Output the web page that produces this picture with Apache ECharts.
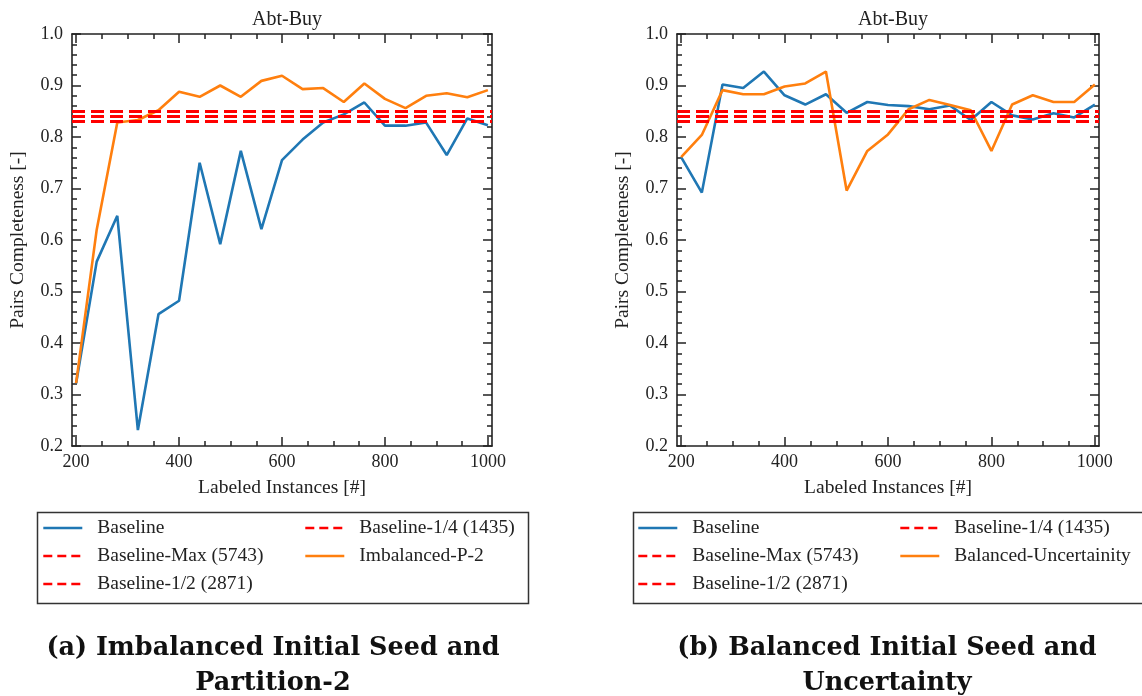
<!DOCTYPE html>
<html>
<head>
<meta charset="utf-8">
<script src="https://cdn.jsdelivr.net/npm/echarts@6/dist/echarts.min.js"></script>
<style>
  html, body { margin: 0; padding: 0; background: #fff; }
  #chart { width: 1142px; height: 696px; }
</style>
</head>
<body>
<div id="chart"></div>
<script>
// Labeled instances (x) shared by both panels
const labeledInstances = [200, 240, 280, 320, 360, 400, 440, 480, 520, 560, 600, 640, 680, 720, 760, 800, 840, 880, 920, 960, 1000];

// Panel (a): imbalanced initial seed, partition-2
const baselineA = [0.322, 0.558, 0.647, 0.231, 0.456, 0.482, 0.750, 0.592, 0.773, 0.621, 0.755, 0.795, 0.828, 0.844, 0.867, 0.822, 0.822, 0.828, 0.765, 0.836, 0.823];
const imbalancedP2 = [0.322, 0.620, 0.828, 0.833, 0.852, 0.888, 0.878, 0.900, 0.878, 0.909, 0.919, 0.893, 0.895, 0.868, 0.904, 0.874, 0.856, 0.880, 0.885, 0.877, 0.891];
const refLinesA = [0.851, 0.837, 0.832]; // Max, 1/2, 1/4

// Panel (b): balanced initial seed, uncertainty
const baselineB = [0.761, 0.692, 0.902, 0.895, 0.927, 0.881, 0.863, 0.883, 0.847, 0.868, 0.862, 0.860, 0.854, 0.861, 0.833, 0.868, 0.842, 0.834, 0.846, 0.838, 0.863];
const balancedUncertainty = [0.761, 0.804, 0.891, 0.883, 0.883, 0.898, 0.904, 0.927, 0.696, 0.773, 0.805, 0.854, 0.872, 0.862, 0.852, 0.773, 0.863, 0.881, 0.868, 0.868, 0.902];
const refLinesB = [0.854, 0.841, 0.826]; // Max, 1/2, 1/4

const refNames = ['Baseline-Max (5743)', 'Baseline-1/2 (2871)', 'Baseline-1/4 (1435)'];
const xMajorTicks = [200, 400, 600, 800, 1000];
const xMinorTicks = [250, 300, 350, 450, 500, 550, 650, 700, 750, 850, 900, 950];
const panelTitle = 'Abt-Buy';
const xName = 'Labeled Instances [#]';
const yName = 'Pairs Completeness [-]';

const SERIF = '"Liberation Serif", "DejaVu Serif", serif';
const INK = '#222';
const BLUE = '#1f77b4', ORANGE = '#ff7f0e', RED = '#ff0000';
const DASH = [13, 6];
const LEGEND_DASH = [9, 5];

const grids = [
  { left: 72, top: 34, width: 420, height: 412 },
  { left: 677, top: 34, width: 422, height: 412 }
];

const xAxes = [];
const yAxes = [];
grids.forEach((g, gi) => {
  const base = { type: 'value', gridIndex: gi, min: 192, max: 1008, splitLine: { show: false } };
  // bottom: major ticks with labels
  xAxes.push(Object.assign({}, base, {
    position: 'bottom',
    axisLine: { show: true, lineStyle: { color: INK, width: 1.6 } },
    axisTick: { show: true, inside: true, length: 9, customValues: xMajorTicks, lineStyle: { color: INK, width: 1.5 } },
    axisLabel: { show: true, customValues: xMajorTicks, color: INK, fontFamily: SERIF, fontSize: 18, margin: 7,
                 formatter: v => String(v) },
    name: xName, nameLocation: 'middle', nameGap: 32,
    nameTextStyle: { color: INK, fontFamily: SERIF, fontSize: 19.5 }
  }));
  // bottom: minor ticks
  xAxes.push(Object.assign({}, base, {
    position: 'bottom',
    axisLine: { show: false },
    axisTick: { show: true, inside: true, length: 5, customValues: xMinorTicks, lineStyle: { color: INK, width: 1.5 } },
    axisLabel: { show: false }
  }));
  // top: major ticks
  xAxes.push(Object.assign({}, base, {
    position: 'top',
    axisLine: { show: true, lineStyle: { color: INK, width: 1.6 } },
    axisTick: { show: true, inside: true, length: 9, customValues: xMajorTicks, lineStyle: { color: INK, width: 1.5 } },
    axisLabel: { show: false }
  }));
  // top: minor ticks
  xAxes.push(Object.assign({}, base, {
    position: 'top',
    axisLine: { show: false },
    axisTick: { show: true, inside: true, length: 5, customValues: xMinorTicks, lineStyle: { color: INK, width: 1.5 } },
    axisLabel: { show: false }
  }));

  const ybase = {
    type: 'value', gridIndex: gi, min: 0.2, max: 1.0, interval: 0.1,
    splitLine: { show: false },
    axisLine: { show: true, lineStyle: { color: INK, width: 1.6 } },
    axisTick: { show: true, inside: true, length: 9, lineStyle: { color: INK, width: 1.5 } },
    minorTick: { show: true, splitNumber: 5, length: 5, lineStyle: { color: INK, width: 1.5 } }
  };
  yAxes.push(Object.assign({}, ybase, {
    position: 'left',
    axisLabel: { show: true, color: INK, fontFamily: SERIF, fontSize: 18, margin: 9, formatter: v => v.toFixed(1) },
    name: yName, nameLocation: 'middle', nameGap: 44,
    nameTextStyle: { color: INK, fontFamily: SERIF, fontSize: 19.5 }
  }));
  yAxes.push(Object.assign({}, ybase, {
    position: 'right',
    axisLabel: { show: false }
  }));
});

function pairs(values) {
  return labeledInstances.map((x, i) => [x, values[i]]);
}

function panelSeries(gi, baseline, strategyName, strategy, refs) {
  const xi = gi * 4, yi = gi * 2;
  const out = [{
    name: 'Baseline', type: 'line', xAxisIndex: xi, yAxisIndex: yi,
    data: pairs(baseline), showSymbol: false, symbol: 'none',
    lineStyle: { color: BLUE, width: 2.6 }, itemStyle: { color: BLUE }, z: 2
  }];
  refs.forEach((v, k) => {
    out.push({
      name: refNames[k], type: 'line', xAxisIndex: xi, yAxisIndex: yi,
      data: [], symbol: 'none',
      lineStyle: { color: RED, width: 2.8, type: DASH }, itemStyle: { color: RED },
      markLine: {
        silent: true, symbol: 'none', label: { show: false },
        lineStyle: { color: RED, width: 2.8, type: DASH },
        data: [{ yAxis: v }]
      },
      z: 3
    });
  });
  out.push({
    name: strategyName, type: 'line', xAxisIndex: xi, yAxisIndex: yi,
    data: pairs(strategy), showSymbol: false, symbol: 'none',
    lineStyle: { color: ORANGE, width: 2.6 }, itemStyle: { color: ORANGE }, z: 4
  });
  return out;
}

const series = [].concat(
  panelSeries(0, baselineA, 'Imbalanced-P-2', imbalancedP2, refLinesA),
  panelSeries(1, baselineB, 'Balanced-Uncertainity', balancedUncertainty, refLinesB)
);

function legendColumn(left, names) {
  return {
    orient: 'vertical', left: left, top: 518, padding: 0,
    itemWidth: 39, itemHeight: 14, itemGap: 8,
    selectedMode: false,
    data: names.map(n => refNames.indexOf(n) >= 0
      ? { name: n, lineStyle: { type: LEGEND_DASH } }
      : { name: n }),
    // line-only legend keys (hide the point marker)
    itemStyle: { opacity: 0, borderWidth: 0 },
    lineStyle: { width: 2.6 },
    textStyle: { color: INK, fontFamily: SERIF, fontSize: 19.5, lineHeight: 20, padding: [0, 0, 0, 10] }
  };
}

const option = {
  backgroundColor: '#fff',
  animation: false,
  grid: grids,
  xAxis: xAxes,
  yAxis: yAxes,
  series: series,
  legend: [
    legendColumn(42, ['Baseline', refNames[0], refNames[1]]),
    legendColumn(304, [refNames[2], 'Imbalanced-P-2']),
    legendColumn(637, ['Baseline', refNames[0], refNames[1]]),
    legendColumn(899, [refNames[2], 'Balanced-Uncertainity'])
  ],
  title: [
    { text: panelTitle, left: 282, top: 5, textAlign: 'center',
      textStyle: { color: INK, fontFamily: SERIF, fontSize: 20, fontWeight: 'normal' } },
    { text: panelTitle, left: 888, top: 5, textAlign: 'center',
      textStyle: { color: INK, fontFamily: SERIF, fontSize: 20, fontWeight: 'normal' } },
    { text: '(a) Imbalanced Initial Seed and\nPartition-2', left: 268, top: 626, textAlign: 'center',
      textStyle: { color: '#111', fontFamily: '"DejaVu Serif", serif', fontSize: 25.5, fontWeight: 'bold', lineHeight: 35 } },
    { text: '(b) Balanced Initial Seed and\nUncertainty', left: 882, top: 626, textAlign: 'center',
      textStyle: { color: '#111', fontFamily: '"DejaVu Serif", serif', fontSize: 25.5, fontWeight: 'bold', lineHeight: 35 } }
  ],
  graphic: [
    { type: 'rect', left: 35, top: 510, shape: { width: 491, height: 91 },
      style: { fill: 'none', stroke: '#333', lineWidth: 1.5 }, z: -1 },
    { type: 'rect', left: 631, top: 510, shape: { width: 530, height: 91 },
      style: { fill: 'none', stroke: '#333', lineWidth: 1.5 }, z: -1 }
  ]
};

const chart = echarts.init(document.getElementById('chart'), null, { renderer: 'canvas' });
chart.setOption(option);
</script>
</body>
</html>
